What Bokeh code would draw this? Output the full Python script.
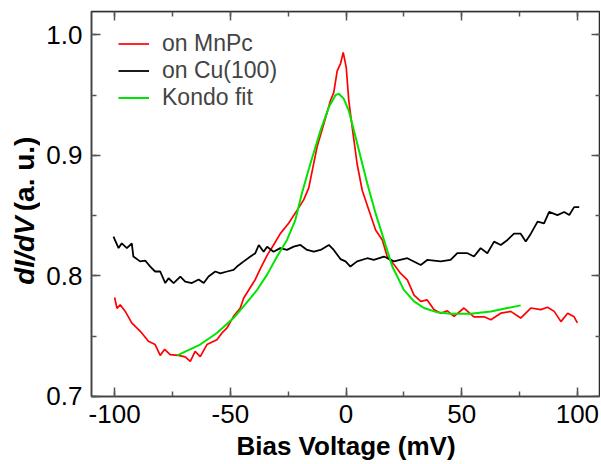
from math import pi
from bokeh.plotting import figure
from bokeh.layouts import row
from bokeh.models import (Range1d, SingleIntervalTicker, LinearAxis, Label,
                          Legend, LegendItem, PrintfTickFormatter,
                          CustomLabelingPolicy)
from bokeh.embed import file_html
from bokeh.resources import INLINE

# ---------------- data ----------------
mnpc_bias = [-100, -99, -97.6, -95.4, -92.6, -88.9, -85.4, -82.5, -80.3, -78.4,
             -76, -72.4, -69.5, -67.3, -65.2, -63, -60.1, -55.8, -53.6, -51.4,
             -48.6, -45.7, -44.2, -42.1, -39.2, -37, -34.1, -31.3, -28.4, -24.8,
             -21.1, -18.3, -16.1, -12.5, -9.6, -6.7, -5.3, -3.8, -2.4, -1.2,
             0.1, 1.2, 2.7, 4.8, 7, 9.9, 12.8, 15.7, 17.8, 21.4,
             23.6, 26.5, 29.4, 32.3, 35.1, 38, 40.9, 43.8, 46.7, 51,
             55.3, 59.7, 62.6, 66.9, 71.2, 75.5, 79.9, 84.2, 87.1, 90,
             92.9, 95.8, 98.6, 100]
mnpc_didv = [0.782, 0.773, 0.776, 0.7705, 0.761, 0.754, 0.7457, 0.743, 0.734, 0.739,
             0.7347, 0.734, 0.7328, 0.729, 0.7374, 0.733, 0.743, 0.747, 0.7526, 0.7568,
             0.7664, 0.7733, 0.7816, 0.788, 0.797, 0.806, 0.817, 0.8256, 0.835, 0.8436,
             0.8545, 0.863, 0.873, 0.907, 0.926, 0.9455, 0.952, 0.970, 0.9758, 0.9854,
             0.973, 0.9455, 0.923, 0.893, 0.871, 0.8545, 0.838, 0.8298, 0.816, 0.8077,
             0.802, 0.7967, 0.784, 0.7788, 0.780, 0.772, 0.769, 0.771, 0.7664, 0.7733,
             0.766, 0.766, 0.7636, 0.769, 0.7705, 0.765, 0.7733, 0.772, 0.774, 0.7705,
             0.762, 0.769, 0.766, 0.761]

cu_bias = [-100.5, -98.3, -96.9, -94.7, -92.6, -91.9, -89, -86.8, -84.6, -82.5,
           -80.3, -78.1, -76.7, -74.5, -71.6, -69.5, -66.6, -63.7, -61.5, -59.4,
           -56.5, -54.3, -51.4, -48.6, -47.1, -44.2, -41.3, -39.2, -37.7, -35.6,
           -34.1, -31.3, -28.4, -25.5, -22.6, -19.7, -16.8, -13.9, -11, -7.4,
           -5.3, -2.4, -0.2, 1.9, 4.8, 9.2, 12, 16.4, 20.7, 26.5,
           32.3, 35.1, 40.9, 45.2, 48.1, 52.5, 55.3, 58.2, 61.1, 64,
           66.9, 69.8, 72.6, 75.5, 77.7, 79.9, 82.8, 85.6, 87.8, 91.4,
           94.3, 96.5, 98.6, 100.8]
cu_didv = [0.8325, 0.823, 0.827, 0.823, 0.827, 0.816, 0.812, 0.8127, 0.8077, 0.8036,
           0.8036, 0.794, 0.798, 0.794, 0.7994, 0.7953, 0.794, 0.797, 0.794, 0.7994,
           0.8036, 0.802, 0.8036, 0.805, 0.8077, 0.812, 0.816, 0.8188, 0.8256, 0.820,
           0.8242, 0.820, 0.823, 0.8215, 0.8242, 0.8256, 0.8215, 0.820, 0.8215, 0.8256,
           0.8215, 0.8139, 0.812, 0.8077, 0.812, 0.8146, 0.8132, 0.816, 0.812, 0.8146,
           0.809, 0.8132, 0.812, 0.8132, 0.8188, 0.8188, 0.816, 0.823, 0.8188, 0.8284,
           0.8256, 0.8298, 0.835, 0.835, 0.8284, 0.835, 0.845, 0.8436, 0.853, 0.8504,
           0.853, 0.8504, 0.857, 0.857]

fit_bias = [-73, -63, -55.8, -48.6, -41.3, -38.4, -34.1, -29.8, -25.5, -21.9,
            -19, -15.4, -11, -7.4, -4.5, -3.1, -1, 1.2, 3.4, 6.3,
            9.2, 12.8, 16.4, 20, 22.2, 25, 29.4, 33.7, 39.5, 45.2,
            53.9, 62.6, 69.8, 75.5]
fit_didv = [0.734, 0.743, 0.7526, 0.765, 0.7816, 0.7884, 0.801, 0.816, 0.8298, 0.8463,
            0.869, 0.893, 0.9207, 0.940, 0.950, 0.951, 0.947, 0.937, 0.9207, 0.8986,
            0.8766, 0.8518, 0.8298, 0.8077, 0.7994, 0.7884, 0.7788, 0.7733, 0.7697, 0.7686,
            0.7686, 0.7705, 0.7733, 0.7755]

series_names = ["on MnPc", "on Cu(100)", "Kondo fit"]
series_colors = ["#ff0000", "#000000", "#00e400"]
x_title = "Bias Voltage (mV)"
y_title_italic = "dI/dV"
y_title_rest = "(a. u.)"

FONT = "Liberation Sans"
H = 463
X0, X1 = -110, 110
Y0, Y1 = 0.6999, 1.0193

# ---------------- main figure ----------------
p = figure(width=560, height=H, output_backend="svg", toolbar_location=None,
           x_range=Range1d(X0, X1), y_range=Range1d(Y0, Y1),
           min_border_left=51, min_border_top=11, min_border_right=0,
           min_border_bottom=66)
p.xgrid.visible = False
p.ygrid.visible = False
p.outline_line_color = "#222222"
p.outline_line_width = 1.5

bottom = p.below[0]
left = p.left[0]
xt = SingleIntervalTicker(interval=50, num_minor_ticks=2)
yt = SingleIntervalTicker(interval=0.1, num_minor_ticks=2)
bottom.ticker = xt
left.ticker = yt
bottom.formatter = PrintfTickFormatter(format="%d")
left.formatter = PrintfTickFormatter(format="%.1f")

hide = CustomLabelingPolicy(code="const ids = [...indices]; for (const i of ids) indices.unset(i);")
top = LinearAxis(ticker=xt, major_label_policy=hide, major_label_standoff=0,
                 major_label_text_font_size="0px", axis_label_standoff=0,
                 fixed_location=Y1)
right = LinearAxis(ticker=yt, major_label_policy=hide, major_label_standoff=0,
                   major_label_text_font_size="0px", axis_label_standoff=0,
                   fixed_location=X1)
p.add_layout(top, "above")
p.add_layout(right, "right")

for ax in [bottom, left, top, right]:
    ax.axis_line_color = "#444444"
    ax.axis_line_width = 1.5
    ax.major_tick_line_color = "#555555"
    ax.minor_tick_line_color = "#555555"
    ax.major_tick_line_width = 1.5
    ax.minor_tick_line_width = 1.5
    ax.major_tick_in = 9
    ax.major_tick_out = 0
    ax.minor_tick_in = 5
    ax.minor_tick_out = 0
    ax.major_label_text_font = FONT
    ax.major_label_text_color = "black"

bottom.major_label_text_font_size = "26px"
left.major_label_text_font_size = "26px"
bottom.major_label_standoff = 8
left.major_label_standoff = 9
bottom.axis_label = x_title
bottom.axis_label_text_font = FONT
bottom.axis_label_text_font_style = "bold"
bottom.axis_label_text_font_size = "26px"
bottom.axis_label_text_color = "black"
bottom.axis_label_standoff = 5

r_mn = p.line(mnpc_bias, mnpc_didv, line_color=series_colors[0], line_width=1.7)
r_cu = p.line(cu_bias, cu_didv, line_color=series_colors[1], line_width=1.8)
r_fit = p.line(fit_bias, fit_didv, line_color=series_colors[2], line_width=2)

legend = Legend(items=[LegendItem(label=series_names[0], renderers=[r_mn]),
                       LegendItem(label=series_names[1], renderers=[r_cu]),
                       LegendItem(label=series_names[2], renderers=[r_fit])],
                location=(27, 285), border_line_color=None,
                background_fill_alpha=0, label_text_font=FONT,
                label_text_font_size="23px", glyph_width=31, glyph_height=27,
                label_height=27, spacing=0, padding=10, margin=0,
                label_standoff=13)
p.add_layout(legend)

# ---------------- y-axis title strip (frame aligned with the main plot) ----------------
t = figure(width=40, height=H, output_backend="svg", toolbar_location=None,
           x_range=Range1d(0, 40), y_range=p.y_range,
           min_border=0, min_border_bottom=66, min_border_top=11,
           x_axis_type=None, y_axis_type=None)
t.xgrid.visible = False
t.ygrid.visible = False
t.outline_line_color = None
lab1 = Label(x=24, y=0.7926, text=y_title_italic, angle=pi / 2, text_font=FONT,
             text_font_style="bold italic", text_font_size="28px",
             text_align="left", text_baseline="middle", text_color="black")
lab2 = Label(x=24, y=0.8536, text=y_title_rest, angle=pi / 2, text_font=FONT,
             text_font_style="bold", text_font_size="28px",
             text_align="left", text_baseline="middle", text_color="black")
t.add_layout(lab1)
t.add_layout(lab2)

layout = row(t, p, spacing=0)
open("out.html", "w").write(file_html(layout, INLINE))
